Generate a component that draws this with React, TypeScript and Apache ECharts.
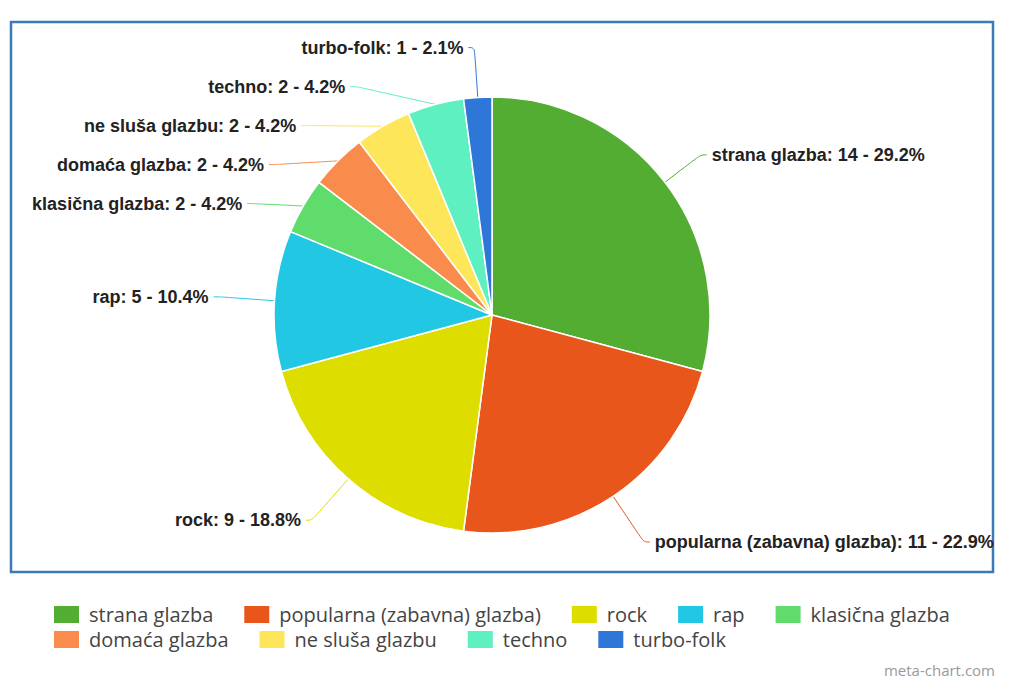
import React, { useEffect, useRef } from "react";
import * as echarts from "echarts";

const categories = [
  "strana glazba",
  "popularna (zabavna) glazba)",
  "rock",
  "rap",
  "klasična glazba",
  "domaća glazba",
  "ne sluša glazbu",
  "techno",
  "turbo-folk",
];
const values = [14, 11, 9, 5, 2, 2, 2, 2, 1];
const colors = [
  "#52ad32",
  "#e9561c",
  "#dedd00",
  "#22c7e4",
  "#5fdc6c",
  "#f98c4d",
  "#fde65a",
  "#5ff0c2",
  "#2e77d8",
];

export default function App() {
  const ref = useRef<HTMLDivElement>(null);
  useEffect(() => {
    document.body.style.margin = "0";
    const chart = echarts.init(ref.current!, null, { renderer: "svg" });
    const total = values.reduce((a, b) => a + b, 0);
    // connector lengths (label placement tweak, per slice)
    const connectorLength: Record<string, number> = {
      "strana glazba": 45,
      "popularna (zabavna) glazba)": 55,
      rock: 55,
      rap: 60,
    };
    const legendCommon = {
      left: 52,
      padding: 0,
      orient: "horizontal",
      icon: "rect",
      itemWidth: 27,
      itemHeight: 19,
      itemGap: 29,
      selectedMode: false,
      textStyle: {
        fontFamily: "Open Sans",
        fontSize: 20,
        lineHeight: 19,
        color: "#444",
        padding: [0, 0, 0, 4],
      },
    };
    chart.setOption({
      animation: false,
      backgroundColor: "#ffffff",
      color: colors,
      graphic: [
        {
          type: "rect",
          shape: { x: 11, y: 22, width: 982, height: 550 },
          style: { fill: "none", stroke: "#3b79b9", lineWidth: 2.5 },
          z: -1,
        },
        {
          type: "text",
          right: 17,
          top: 662,
          style: {
            text: "meta-chart.com",
            fontFamily: "Open Sans",
            fontSize: 15,
            fill: "#9a9a9a",
          },
        },
      ],
      legend: [
        { ...legendCommon, top: 604, data: categories.slice(0, 5) },
        { ...legendCommon, top: 629, data: categories.slice(5) },
      ],
      series: [
        {
          type: "pie",
          center: [492, 315],
          radius: 218,
          startAngle: 90,
          clockwise: true,
          itemStyle: { borderColor: "#ffffff", borderWidth: 1.5 },
          label: {
            show: true,
            formatter: (p: any) =>
              `${p.name}: ${p.value} - ${((p.value / total) * 100).toFixed(1)}%`,
            fontFamily: "Liberation Sans, Arial, sans-serif",
            fontWeight: "bold",
            fontSize: 18,
            lineHeight: 37,
            overflow: "none",
            color: "#222",
          },
          labelLine: {
            show: true,
            length: 50,
            length2: 6,
            smooth: 0.4,
            lineStyle: { width: 1 },
          },
          data: categories.map((name, i) => ({
            name,
            value: values[i],
            ...(connectorLength[name] !== undefined
              ? { labelLine: { length: connectorLength[name] } }
              : {}),
          })),
        },
      ],
    });
    return () => chart.dispose();
  }, []);
  return <div ref={ref} style={{ width: 1012, height: 688 }} />;
}
